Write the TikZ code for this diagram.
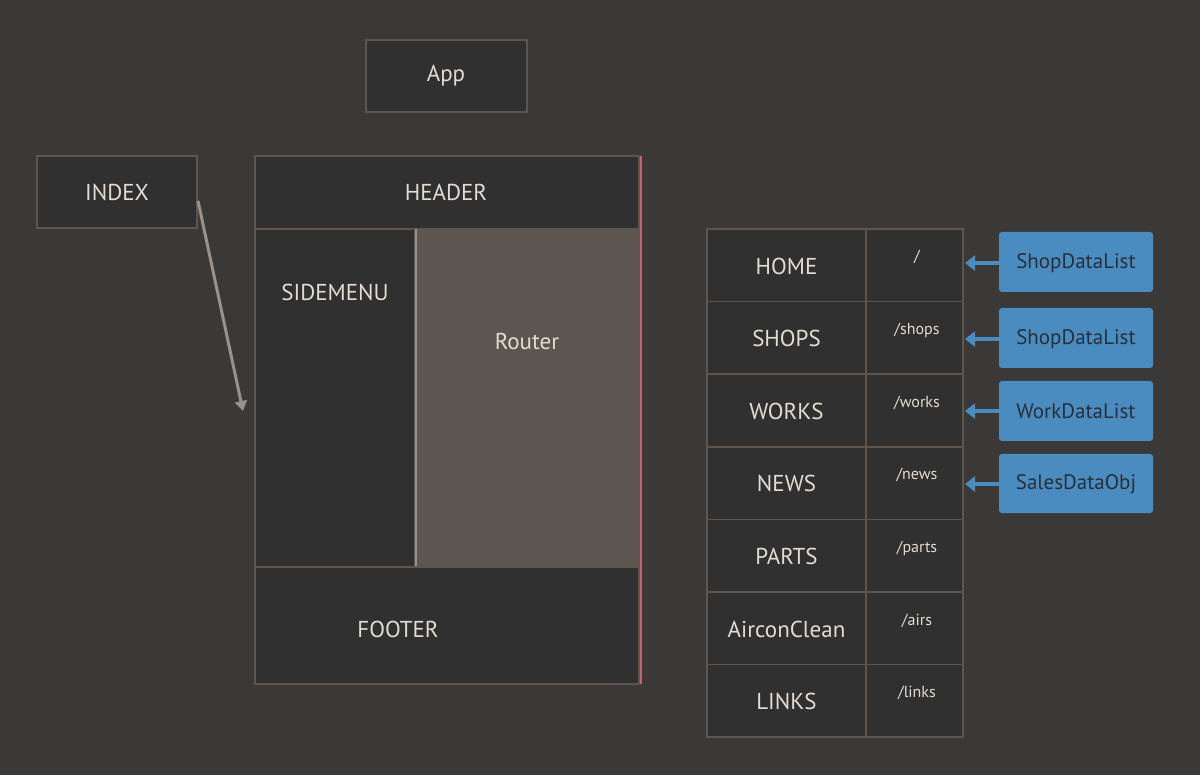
\documentclass[tikz,border=0pt]{standalone}
\usepackage{fontspec}
\setmainfont{PT Sans}
\usetikzlibrary{arrows.meta}
\definecolor{bg}{HTML}{3B3937}
\definecolor{boxf}{HTML}{313030}
\definecolor{bord}{HTML}{5F554C}
\definecolor{txt}{HTML}{E4DCD2}
\definecolor{routerf}{HTML}{5D554F}
\definecolor{blu}{HTML}{4A8BC0}
\definecolor{blutxt}{HTML}{27303A}
\definecolor{arr}{HTML}{9A918A}
\definecolor{redl}{HTML}{B86A74}
\begin{document}
\begin{tikzpicture}[x=1pt,y=-1pt,
  bx/.style={draw=bord,line width=1.5pt,fill=boxf},
  lbl/.style={text=txt,font=\fontsize{23}{26}\selectfont},
  rt/.style={text=txt,font=\fontsize{16}{19}\selectfont},
  bl/.style={fill=blu,rounded corners=3pt,text=blutxt,font=\fontsize{21}{24}\selectfont}]
\fill[bg] (0,0) rectangle (1200,775);
\useasboundingbox (0,0) rectangle (1200,775);
% App
\draw[bx] (366,40) rectangle (527,112);
\node[lbl] (app) at (446,76) {App};
% INDEX
\draw[bx] (37,156) rectangle (197,228);
\node[lbl] (index) at (117,192) {INDEX};
% main frame
\draw[bx] (255,156) rectangle (639,229);
\node[lbl] (header) at (446,192) {HEADER};
\draw[bx] (255,229) rectangle (415,567);
\node[lbl] (side) at (335,292) {SIDEMENU};
\fill[routerf] (416,229) rectangle (639,567);
\draw[arr,line width=1.5pt] (416,229) -- (416,567);
\node[lbl] (router) at (527,341) {Router};
\draw[bx] (255,567) rectangle (639,684);
\node[lbl] (footer) at (398,629) {FOOTER};
\draw[bord,line width=1.5pt] (255,156) rectangle (639,684);
\draw[redl,line width=2pt] (641,156) -- (641,684);
\coordinate (tgt) at (243,411);
\draw[arr,line width=3pt,-{Triangle[length=10pt,width=12pt]}] (198,201) -- (tgt);
% table
\foreach \n/\r/\y [count=\i] in {HOME/{/}/229,SHOPS/{/shops}/301.6,WORKS/{/works}/374.2,NEWS/{/news}/446.8,PARTS/{/parts}/519.4,AirconClean/{/airs}/592,LINKS/{/links}/664.6}{
  \draw[bx] (707,\y) rectangle (866,\y+72.6);
  \draw[bx] (866,\y) rectangle (963,\y+72.6);
  \node[lbl] (p\i) at (786.5,\y+37) {\n};
  \node[rt,anchor=base] (r\i) at (917,\y+33) {\r};
}
\coordinate (c1) at (965,263);
\coordinate (c2) at (965,339);
\coordinate (c3) at (965,411);
\coordinate (c4) at (965,484);
\foreach \t/\a/\b/\c [count=\i] in {ShopDataList/232/292/263,ShopDataList/308/368/339,WorkDataList/381/441/411,SalesDataObj/454/513/484}{
  \fill[blu,rounded corners=3pt] (999,\a) rectangle (1153,\b);
  \node[bl,fill=none] (d\i) at (1076,\c) {\t};
  \draw[blu,line width=3.5pt,-{Triangle[length=10pt,width=15pt]}] (999,\c) -- (c\i);
}
\end{tikzpicture}
\end{document}
